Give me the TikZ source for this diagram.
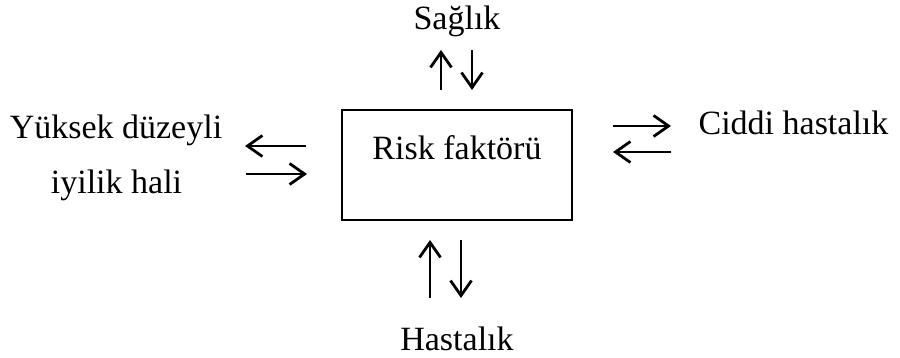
\documentclass[tikz,border=0pt]{standalone}
\usepackage{fontspec}
\setmainfont{Liberation Serif}
\usetikzlibrary{arrows.meta}
\tikzset{
  >={Straight Barb[length=15pt,width=21pt]},
  kutu/.style={draw, line width=2.2pt, minimum width=230pt, minimum height=110pt, inner sep=0pt},
  etiket/.style={font=\fontsize{34}{40}\selectfont, anchor=base},
  ok/.style={->, line width=2.8pt},
}
\begin{document}
\begin{tikzpicture}[x=1pt,y=-1pt]
    \useasboundingbox (0,0) rectangle (900,358);
    % Kutu ve metinler
    \node[kutu] (risk) at (457,165) {};
    \node[etiket] (riskyazi) at (457,160) {Risk faktörü};
    \node[etiket] (saglik)   at (457,30)  {Sağlık};
    \node[etiket] (hastalik) at (457,350) {Hastalık};
    \node[etiket] (ciddi)    at (793.5,135) {Ciddi hastalık};
    \node[etiket] (iyilik1)  at (116,139) {Yüksek düzeyli};
    \node[etiket] (iyilik2)  at (116.5,194) {iyilik hali};
    % Ok uçları
    \coordinate (u1a) at (441,90);  \coordinate (u1b) at (441,50);
    \coordinate (u2a) at (472,50);  \coordinate (u2b) at (472,90);
    \coordinate (a1a) at (430,298); \coordinate (a1b) at (430,240);
    \coordinate (a2a) at (461,240); \coordinate (a2b) at (461,298);
    \coordinate (s1a) at (306,146); \coordinate (s1b) at (245,146);
    \coordinate (s2a) at (246,174); \coordinate (s2b) at (307,174);
    \coordinate (g1a) at (613,126); \coordinate (g1b) at (671,126);
    \coordinate (g2a) at (671,152); \coordinate (g2b) at (613,152);
    % Oklar
    \draw[ok] (u1a) -- (u1b);
    \draw[ok] (u2a) -- (u2b);
    \draw[ok] (a1a) -- (a1b);
    \draw[ok] (a2a) -- (a2b);
    \draw[ok] (s1a) -- (s1b);
    \draw[ok] (s2a) -- (s2b);
    \draw[ok] (g1a) -- (g1b);
    \draw[ok] (g2a) -- (g2b);
\end{tikzpicture}
\end{document}
